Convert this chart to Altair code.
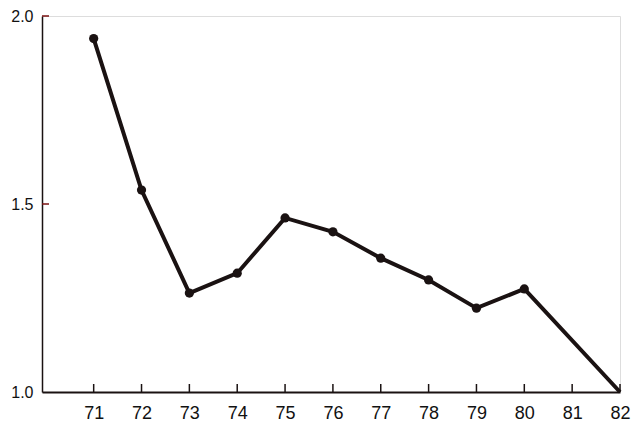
import altair as alt
import pandas as pd

years = [71, 72, 73, 74, 75, 76, 77, 78, 79, 80, 82]
values = [1.94, 1.537, 1.263, 1.316, 1.463, 1.426, 1.356, 1.298, 1.223, 1.274, 1.0]
point_years = [71, 72, 73, 74, 75, 76, 77, 78, 79, 80]
x_ticks = [71, 72, 73, 74, 75, 76, 77, 78, 79, 80, 81, 82]
y_ticks = [1.0, 1.5, 2.0]

df = pd.DataFrame({"year": years, "value": values})
pts = df[df["year"].isin(point_years)]
xt = pd.DataFrame({"year": x_ticks})
yt = pd.DataFrame({"v": [1.5, 2.0]})

FONT = "Liberation Sans"
INK = "#1a1212"

xscale = alt.Scale(domain=[69.92, 82], nice=False, zero=False)
yscale = alt.Scale(domain=[1.0, 2.0], nice=False, zero=False)

xaxis = alt.Axis(values=x_ticks, format="d", tickSize=0, grid=False, domain=True,
                 domainColor=INK, domainWidth=2, labelFont=FONT, labelFontSize=18,
                 labelColor="#111", labelPadding=12, title=None, labelFlush=False)
yaxis = alt.Axis(values=y_ticks, format=".1f", tickSize=0, grid=False, domain=True,
                 domainColor=INK, domainWidth=1.5, labelFont=FONT, labelFontSize=16,
                 labelColor="#111", labelPadding=9, title=None, labelFlush=False)

line = alt.Chart(df).mark_line(color=INK, strokeWidth=4).encode(
    x=alt.X("year:Q", scale=xscale, axis=xaxis),
    y=alt.Y("value:Q", scale=yscale, axis=yaxis),
)
points = alt.Chart(pts).mark_point(filled=True, color=INK, size=85, opacity=1).encode(
    x=alt.X("year:Q", scale=xscale),
    y=alt.Y("value:Q", scale=yscale),
)
xticks = alt.Chart(xt).mark_rule(color=INK, strokeWidth=1.5).encode(
    x=alt.X("year:Q", scale=xscale),
    y=alt.value(376),
    y2=alt.value(368),
)
yticks = alt.Chart(yt).mark_rule(color="#7a1010", strokeWidth=1.5).encode(
    y=alt.Y("v:Q", scale=yscale),
    x=alt.value(0),
    x2=alt.value(7),
)

chart = alt.layer(xticks, yticks, line, points).properties(
    width=578, height=376,
    autosize=alt.AutoSizeParams(type="none"),
    padding={"left": 34, "top": 8, "right": 12, "bottom": 38},
).configure_view(stroke=None).configure(background="white")

chart.save("out.html", embed_options={"renderer": "svg", "actions": False})
